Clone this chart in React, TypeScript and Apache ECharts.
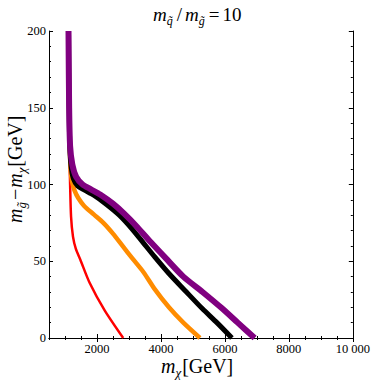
import React, { useEffect, useRef } from "react";
import * as echarts from "echarts";

const xMajorTicks = [2000, 4000, 6000, 8000, 10000];
const yMajorTicks = [0, 50, 100, 150, 200];

const redCurve: [number, number][] = [
  [1110, 200], [1125, 150], [1140, 120], [1160, 100], [1190, 79], [1250, 66],
  [1340, 58], [1480, 51], [1770, 36], [2240, 18], [2820, 0],
];
const orangeCurve: [number, number][] = [
  [1110, 200], [1130, 150], [1150, 125], [1175, 110], [1220, 102], [1300, 96],
  [1420, 91], [1600, 86], [1900, 80.5], [2200, 75], [2500, 68], [2800, 60],
  [3100, 52], [3450, 43], [3800, 32], [4250, 20], [4700, 10], [5220, 0],
];
const blackCurve: [number, number][] = [
  [1110, 200], [1130, 150], [1150, 125], [1190, 112], [1260, 104], [1400, 99],
  [1600, 96.5], [1900, 93], [2300, 87], [2700, 80], [3100, 71], [3450, 62],
  [3800, 53], [4250, 42], [4750, 31], [5300, 19], [5750, 10], [6220, 0],
];
const purpleCurve: [number, number][] = [
  [1110, 200], [1130, 150], [1160, 125], [1230, 113], [1350, 105], [1550, 100],
  [1800, 97], [2100, 93.5], [2500, 87.5], [2850, 81], [3250, 72.5], [3700, 62],
  [4150, 52], [4700, 40], [5300, 30], [5900, 19.5], [6400, 10], [6930, 0],
];

const FONT = "Liberation Serif";

const richStyles = (size: number, sub: number, gap: number) => ({
  i: { fontFamily: FONT, fontStyle: "italic", fontSize: size, lineHeight: size + 4, verticalAlign: "bottom", fill: "#000" },
  s: { fontFamily: FONT, fontStyle: "italic", fontSize: sub, lineHeight: sub, verticalAlign: "bottom", padding: [0, 1, -3, 0], fill: "#000" },
  r: { fontFamily: FONT, fontSize: size, lineHeight: size + 4, verticalAlign: "bottom", fill: "#000" },
  g: { fontFamily: FONT, fontSize: size, lineHeight: size + 4, verticalAlign: "bottom", padding: [0, gap, 0, gap], fill: "#000" },
});

export default function App() {
  const ref = useRef<HTMLDivElement>(null);
  useEffect(() => {
    if (!ref.current) return;
    const chart = echarts.init(ref.current, undefined, { renderer: "svg" });
    const axisLine = { show: true, lineStyle: { color: "#000", width: 1 } };
    const xBase = { type: "value", min: 500, max: 10000, splitLine: { show: false } };
    const yBase = { type: "value", min: 0, max: 200, splitLine: { show: false } };
    const tickLabel = { fontFamily: FONT, fontSize: 12.5, color: "#000" };
    const lineSeries = (data: [number, number][], color: string, width: number) => ({
      type: "line",
      data,
      showSymbol: false,
      smooth: 0.25,
      xAxisIndex: 0,
      yAxisIndex: 0,
      lineStyle: { color, width, cap: "butt", join: "round" },
      clip: true,
    });
    chart.setOption({
      animation: false,
      textStyle: { fontFamily: FONT },
      grid: { left: 49, right: 17, top: 31, bottom: 44, containLabel: false },
      xAxis: [
        {
          ...xBase, position: "bottom", interval: 500, axisLine,
          axisTick: { inside: true, length: 2, lineStyle: { color: "#000" } },
          axisLabel: {
            ...tickLabel, interval: 0, margin: 4, hideOverlap: false,
            formatter: (v: number) =>
              xMajorTicks.indexOf(v) >= 0 ? (v === 10000 ? "10 000" : String(v)) : "",
          },
        },
        {
          ...xBase, position: "bottom", axisLine: { show: false },
          axisTick: { inside: true, length: 4, customValues: xMajorTicks, lineStyle: { color: "#000" } },
          axisLabel: { show: false },
        },
        { ...xBase, position: "top", interval: 500, axisLine, axisTick: { inside: true, length: 2, lineStyle: { color: "#000" } }, axisLabel: { show: false } },
        { ...xBase, position: "top", axisLine: { show: false }, axisTick: { inside: true, length: 4, customValues: xMajorTicks, lineStyle: { color: "#000" } }, axisLabel: { show: false } },
      ],
      yAxis: [
        { ...yBase, position: "left", interval: 10, axisLine, axisTick: { inside: true, length: 2, lineStyle: { color: "#000" } }, axisLabel: { show: false } },
        {
          ...yBase, position: "left", interval: 50, axisLine: { show: false },
          axisTick: { inside: true, length: 4, lineStyle: { color: "#000" } },
          axisLabel: {
            ...tickLabel, margin: 3,
            formatter: (v: number) => (yMajorTicks.indexOf(v) >= 0 ? String(v) : ""),
          },
        },
        { ...yBase, position: "right", interval: 10, axisLine, axisTick: { inside: true, length: 2, lineStyle: { color: "#000" } }, axisLabel: { show: false } },
        { ...yBase, position: "right", interval: 50, axisLine: { show: false }, axisTick: { inside: true, length: 4, lineStyle: { color: "#000" } }, axisLabel: { show: false } },
      ],
      series: [
        lineSeries(redCurve, "#ff0000", 2.5),
        lineSeries(orangeCurve, "#ff8c00", 4.5),
        lineSeries(blackCurve, "#000000", 5),
        lineSeries(purpleCurve, "#800080", 6),
      ],
      graphic: [
        {
          type: "text", x: 153, y: 12,
          style: {
            text: "{i|m}{s|q\u0303}{g|/}{i|m}{s|g\u0303}{g|=}{r|10}",
            rich: richStyles(19, 12, 3), align: "left", verticalAlign: "middle",
          },
        },
        {
          type: "text", x: 161, y: 364,
          style: {
            text: "{i|m}{s|\u03c7}{r|[GeV]}",
            rich: richStyles(20, 13, 2), align: "left", verticalAlign: "middle",
          },
        },
        {
          type: "text", x: 13, y: 223, rotation: Math.PI / 2,
          style: {
            text: "{i|m}{s|g\u0303}{g|\u2212}{i|m}{s|\u03c7}{r|[GeV]}",
            rich: richStyles(20, 13, 1), align: "left", verticalAlign: "middle",
          },
        },
      ],
    });
    return () => chart.dispose();
  }, []);
  return (
    <div
      ref={ref}
      style={{ position: "fixed", left: 0, top: 0, width: 373, height: 382, background: "#fff" }}
    />
  );
}
